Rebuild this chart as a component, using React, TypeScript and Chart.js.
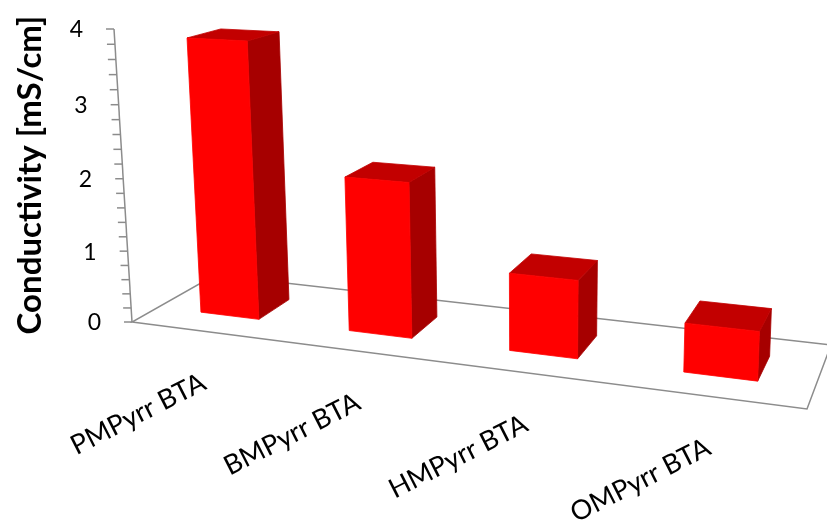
import React, { useEffect, useRef } from "react";
import { Chart, registerables } from "chart.js";

Chart.register(...registerables);

// ---- data ----
const categories = ["PMPyrr BTA", "BMPyrr BTA", "HMPyrr BTA", "OMPyrr BTA"];
const conductivity = [3.82, 2.1, 1.03, 0.63];
const yTickLabels = ["0", "1", "2", "3", "4"];
const yMin = 0;
const yMax = 4;
const minorStep = 0.2;
const yTitle = "Conductivity [mS/cm]";

// ---- layout (pseudo-3D camera: projected floor corners + vertical vanishing point) ----
const FLOOR_FL = [132, 322];
const FLOOR_FR = [807, 409];
const FLOOR_BR = [831, 345];
const FLOOR_BL = [215, 275];
const VANISH = [530, 6800];
const AXIS_TOP_Y = 29;
const DEPTH_FRONT = 0.3;
const DEPTH_BACK = 0.7;
const COLORS = { front: "#FF0000", side: "#A60000", top: "#C20000", line: "#8C8C8C", text: "#000000" };

function makeProjector() {
  const [x0, y0] = FLOOR_FL;
  const [x1, y1] = FLOOR_FR;
  const [x2, y2] = FLOOR_BR;
  const [x3, y3] = FLOOR_BL;
  const dx1 = x1 - x2, dx2 = x3 - x2, sx = x0 - x1 + x2 - x3;
  const dy1 = y1 - y2, dy2 = y3 - y2, sy = y0 - y1 + y2 - y3;
  const den = dx1 * dy2 - dx2 * dy1;
  const g = (sx * dy2 - dx2 * sy) / den;
  const h = (dx1 * sy - sx * dy1) / den;
  const a = x1 - x0 + g * x1, b = x3 - x0 + h * x3, c = x0;
  const d = y1 - y0 + g * y1, e = y3 - y0 + h * y3, f = y0;
  const k = (AXIS_TOP_Y - y0) / (VANISH[1] - AXIS_TOP_Y);
  return (u: number, w: number, z: number): [number, number] => {
    const W = g * u + h * w + 1 + k * z;
    return [(a * u + b * w + c + k * z * VANISH[0]) / W, (d * u + e * w + f + k * z * VANISH[1]) / W];
  };
}

function poly(ctx: CanvasRenderingContext2D, pts: [number, number][], color: string) {
  ctx.beginPath();
  ctx.moveTo(pts[0][0], pts[0][1]);
  for (let i = 1; i < pts.length; i++) ctx.lineTo(pts[i][0], pts[i][1]);
  ctx.closePath();
  ctx.fillStyle = color;
  ctx.fill();
  ctx.strokeStyle = color;
  ctx.lineWidth = 0.8;
  ctx.stroke();
}

const pseudo3d = {
  id: "pseudo3d",
  beforeDatasetsDraw(chart: any) {
    const ctx: CanvasRenderingContext2D = chart.ctx;
    const ca = chart.chartArea;
    const xs = chart.scales.x;
    const ys = chart.scales.y;
    const P = makeProjector();
    const base = ys.getPixelForValue(yMin);
    const span = base - ys.getPixelForValue(yMax);
    const zOf = (v: number) => (base - ys.getPixelForValue(v)) / span;
    const uOf = (px: number) => (px - ca.left) / (ca.right - ca.left);

    ctx.save();
    // floor
    ctx.strokeStyle = COLORS.line;
    ctx.lineWidth = 1.5;
    ctx.beginPath();
    const f0 = P(0, 0, 0), f1 = P(1, 0, 0), f2 = P(1, 1, 0), f3 = P(0, 1, 0);
    ctx.moveTo(f0[0], f0[1]);
    ctx.lineTo(f1[0], f1[1]);
    ctx.lineTo(f2[0], f2[1]);
    ctx.lineTo(f3[0], f3[1]);
    ctx.closePath();
    ctx.stroke();

    // vertical axis line
    const a0 = P(0, 0, 0), a1 = P(0, 0, 1);
    ctx.beginPath();
    ctx.moveTo(a0[0], a0[1]);
    ctx.lineTo(a1[0], a1[1]);
    ctx.stroke();
    // ticks
    const nMinor = Math.round((yMax - yMin) / minorStep);
    for (let i = 0; i <= nMinor; i++) {
      const v = yMin + i * minorStep;
      const p = P(0, 0, zOf(v));
      ctx.beginPath();
      ctx.moveTo(p[0] - 8, p[1]);
      ctx.lineTo(p[0], p[1]);
      ctx.stroke();
    }
    // tick labels
    ctx.fillStyle = COLORS.text;
    ctx.font = "23px Lato";
    ctx.textAlign = "right";
    ctx.textBaseline = "middle";
    yTickLabels.forEach((t) => {
      const p = P(0, 0, zOf(parseFloat(t)));
      ctx.fillText(t, p[0] - 31, p[1] + 1);
    });

    // bars
    const meta = chart.getDatasetMeta(0);
    meta.data.forEach((el: any, i: number) => {
      const { x, y, width } = el.getProps(["x", "y", "width"], true);
      const uc = uOf(x);
      const hu = width / 2 / (ca.right - ca.left);
      const u0 = uc - hu, u1 = uc + hu;
      const zt = (base - y) / span;
      const w0 = DEPTH_FRONT, w1 = DEPTH_BACK;
      poly(ctx, [P(u1, w0, 0), P(u1, w1, 0), P(u1, w1, zt), P(u1, w0, zt)], COLORS.side);
      poly(ctx, [P(u0, w0, zt), P(u1, w0, zt), P(u1, w1, zt), P(u0, w1, zt)], COLORS.top);
      poly(ctx, [P(u0, w0, 0), P(u1, w0, 0), P(u1, w0, zt), P(u0, w0, zt)], COLORS.front);

      // category label
      const lp = P(uOf(xs.getPixelForValue(i)), 0, 0);
      ctx.save();
      ctx.translate(lp[0] + 3, lp[1] + 57);
      ctx.rotate((-27 * Math.PI) / 180);
      ctx.fillStyle = COLORS.text;
      ctx.font = "27px Lato";
      ctx.textAlign = "right";
      ctx.textBaseline = "alphabetic";
      ctx.fillText(categories[i], 0, 0);
      ctx.restore();
    });

    // axis title
    ctx.save();
    ctx.translate(30, 175);
    ctx.rotate(-Math.PI / 2);
    ctx.fillStyle = COLORS.text;
    ctx.font = "bold 33px Lato";
    ctx.textAlign = "center";
    ctx.textBaseline = "middle";
    ctx.fillText(yTitle, 0, 0);
    ctx.restore();

    ctx.restore();
    return false;
  },
};

export default function App() {
  const ref = useRef<HTMLCanvasElement | null>(null);
  useEffect(() => {
    if (!ref.current) return;
    const chart = new Chart(ref.current, {
      type: "bar",
      data: {
        labels: categories,
        datasets: [
          {
            label: yTitle,
            data: conductivity,
            backgroundColor: COLORS.front,
            barPercentage: 0.4,
            categoryPercentage: 1.0,
          },
        ],
      },
      options: {
        animation: false,
        responsive: false,
        devicePixelRatio: 1,
        layout: { padding: 0 },
        plugins: { legend: { display: false }, tooltip: { enabled: false } },
        scales: {
          x: { display: false },
          y: { display: false, min: yMin, max: yMax },
        },
      },
      plugins: [pseudo3d],
    });
    return () => chart.destroy();
  }, []);
  return (
    <div style={{ position: "absolute", left: 0, top: 0, width: 827, height: 528, background: "#fff" }}>
      <canvas ref={ref} width={827} height={528} />
    </div>
  );
}
